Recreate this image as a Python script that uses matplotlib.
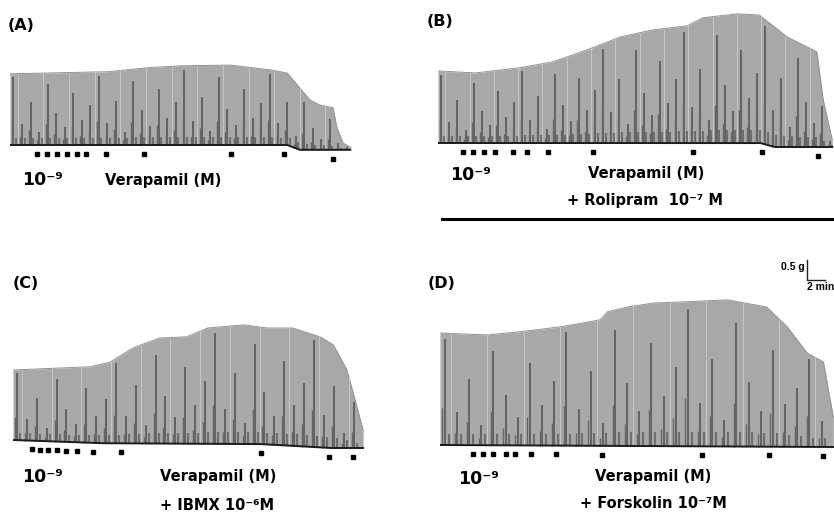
import numpy as np
import matplotlib.pyplot as plt

# Registros de tension (g) frente a tiempo (min)
# Panel A: verapamil solo
a_t = [0, 10.8, 15.1, 18.9, 24.4, 28.9, 30.8, 32.2, 33.3, 34.4, 35.9, 36.3, 37.0, 37.8]
a_top = [1.78, 1.83, 1.93, 1.98, 2.0, 1.88, 1.80, 1.43, 1.13, 1.0, 0.93, 0.45, 0.05, -0.05]
a_base_t = [0, 30.8, 32.2, 37.8]
a_base = [0, 0, -0.12, -0.12]
a_dots = [3.0, 4.1, 5.2, 6.3, 7.4, 8.4, 10.7, 14.9, 24.6, 30.4, 35.9]

# Panel B: + rolipram
b_t = [0, 4.1, 9.1, 12.8, 17.2, 20.2, 23.9, 27.7, 29.4, 33.2, 35.7, 38.8, 40.6, 42.1, 42.8, 43.8]
b_top = [1.8, 1.75, 1.88, 2.03, 2.38, 2.65, 2.83, 2.93, 3.13, 3.23, 3.2, 2.65, 2.45, 2.28, 1.08, 0.08]
b_base_t = [0, 35.8, 37.4, 43.8]
b_base = [0, 0, -0.1, -0.1]
b_dots = [2.8, 3.9, 5.1, 6.3, 8.3, 9.9, 12.2, 17.2, 28.3, 36.0, 42.2]

# Panel C: + IBMX
c_t = [0, 8.6, 10.8, 13.3, 16.3, 19.3, 21.6, 25.6, 28.2, 31.1, 34.1, 35.6, 37.1, 37.8, 38.9]
c_top = [1.75, 1.83, 1.95, 2.3, 2.55, 2.58, 2.8, 2.88, 2.8, 2.8, 2.58, 2.38, 1.75, 1.18, 0.25]
c_base_t = [0, 9.7, 27.4, 35.2, 38.9]
c_base = [0, -0.08, -0.1, -0.2, -0.2]
c_dots = [2.1, 3.0, 3.9, 4.9, 5.9, 7.1, 8.9, 12.0, 27.6, 35.1, 37.8]

# Panel D: + forskolina
d_t = [0, 5.2, 8.9, 13.3, 17.8, 18.6, 20.8, 23.7, 27.4, 31.9, 36.3, 38.6, 40.8, 42.6, 43.7]
d_top = [2.8, 2.75, 2.83, 2.95, 3.13, 3.33, 3.45, 3.55, 3.58, 3.63, 3.45, 2.95, 2.3, 2.08, 0.7]
d_base_t = [0, 43.7]
d_base = [0, -0.05]
d_dots = [3.7, 4.8, 5.9, 7.3, 8.3, 10.1, 12.9, 18.0, 29.1, 36.6, 42.6]

# fracciones de altura de las espigas oscuras (textura)
spike_frac = [0.95, 0.3, 0.6, 0.18, 0.85, 0.45, 0.25, 0.72, 0.35, 0.55]

W, H = 834, 521
PX_MIN = 9.0    # px por minuto
PX_G = 40.0     # px por gramo

fig = plt.figure(figsize=(W / 100, H / 100), dpi=100)
fig.patch.set_facecolor('white')


def panel(x0, base_y, width, ytop, ybot):
    ax = fig.add_axes([x0 / W, 1 - ybot / H, width / W, (ybot - ytop) / H])
    ax.set_xlim(0, width / PX_MIN)
    ax.set_ylim((base_y - ybot) / PX_G, (base_y - ytop) / PX_G)
    ax.axis('off')
    return ax


def trace(ax, t, top, bt, bv, dots, step):
    t = np.array(t)
    tt = np.linspace(t[0], t[-1], 600)
    env = np.interp(tt, t, top)
    base = np.interp(tt, bt, bv)
    ax.fill_between(tt, base, env, color='#a8a8a8', lw=0)
    ax.plot(tt, env, color='#939393', lw=0.7)
    # espigas
    ts = np.arange(t[0] + step * 0.4, t[-1] - 0.2, step)
    e = np.interp(ts, t, top)
    b = np.interp(ts, bt, bv)
    fr = np.array([spike_frac[i % len(spike_frac)] for i in range(len(ts))])
    light = ts[::3] + step * 0.5
    ax.vlines(light, np.interp(light, bt, bv), np.interp(light, t, top),
              color='#cdcdcd', lw=0.6)
    ax.vlines(ts, b, b + (e - b) * fr, color='#575757', lw=1.2)
    ax.vlines(ts - step * 0.2, b, b + (e - b) * fr * 0.35, color='#666666', lw=1.0)
    ax.vlines(ts + step * 0.3, b, b + (e - b) * 0.1, color='#6e6e6e', lw=1.5)
    ax.plot(tt, base, color='#1c1c1c', lw=1.4)
    dots = np.array(dots)
    ax.plot(dots, np.interp(dots, bt, bv) - 0.22, 's', color='black', ms=2.8)


def txt(x, y, s, size=10.5, **kw):
    fig.text(x / W, 1 - y / H, s, fontsize=size, fontweight='bold',
             va='center', ha=kw.pop('ha', 'left'), family='DejaVu Sans', **kw)


axA = panel(10, 145, 350, 40, 165)
trace(axA, a_t, a_top, a_base_t, a_base, a_dots, 0.95)
axB = panel(438, 143, 396, 0, 165)
trace(axB, b_t, b_top, b_base_t, b_base, b_dots, 0.9)
axC = panel(13, 440, 360, 300, 465)
trace(axC, c_t, c_top, c_base_t, c_base, c_dots, 1.1)
axD = panel(440, 445, 394, 250, 465)
trace(axD, d_t, d_top, d_base_t, d_base, d_dots, 1.35)

# barra de escala 0.5 g / 2 min
axD.plot([40.8, 40.8, 42.8], [4.625, 4.125, 4.125], color='#222222', lw=1.0)
fig.text(805 / W, 1 - 267 / H, '0.5 g', fontsize=7.5, fontweight='bold',
         ha='right', va='center', family='Liberation Sans')
fig.text(807 / W, 1 - 287 / H, '2 min', fontsize=7.5, fontweight='bold',
         ha='left', va='center', family='Liberation Sans')

# textos
txt(8, 26, '(A)', 11.5)
txt(22, 180, '10⁻⁹', 12.5)
txt(105, 181, 'Verapamil (M)')

txt(427, 22, '(B)', 11.5)
txt(450, 175, '10⁻⁹', 12.5)
txt(588, 174, 'Verapamil (M)')
txt(567, 201, '+ Rolipram  10⁻⁷ M')
fig.add_artist(plt.Line2D([442 / W, 833 / W], [1 - 219 / H, 1 - 219 / H],
                          color='black', lw=2.2))

txt(13, 283, '(C)', 11.5)
txt(22, 477, '10⁻⁹', 12.5)
txt(160, 477, 'Verapamil (M)')
txt(160, 505, '+ IBMX 10⁻⁶M')

txt(428, 283, '(D)', 11.5)
txt(458, 479, '10⁻⁹', 12.5)
txt(595, 477, 'Verapamil (M)')
txt(580, 503, '+ Forskolin 10⁻⁷M')

plt.savefig('out.png', dpi=100)
